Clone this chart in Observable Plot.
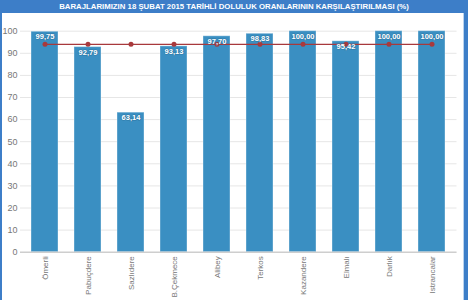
<!DOCTYPE html>
<html>
<head>
<meta charset="utf-8">
<script src="https://cdn.jsdelivr.net/npm/d3@7"></script>
<script src="https://cdn.jsdelivr.net/npm/@observablehq/plot@0.6"></script>
<style>
  html, body { margin: 0; padding: 0; background: #fff; }
  #wrap { position: relative; width: 468px; height: 300px; overflow: hidden; background: #fff; font-family: "Liberation Sans", Arial, sans-serif; }
  #title { position: absolute; left: 0; top: 0; width: 468px; height: 13px; background: #3d7ec8; color: #fff; font-weight: bold; font-size: 7.8px; line-height: 13px; text-align: center; white-space: nowrap; }
  #lb { position: absolute; left: 0; top: 0; width: 2px; height: 300px; background: #3d7ec8; }
  #rb { position: absolute; left: 464px; top: 0; width: 4px; height: 300px; background: #3d7ec8; }
  #rbi { position: absolute; left: 463px; top: 13px; width: 1px; height: 287px; background: #b9d3ee; }
  #chart { position: absolute; left: 0; top: 13px; }
</style>
</head>
<body>
<div id="wrap">
  <div id="chart"></div>
  <div id="lb"></div>
  <div id="rbi"></div>
  <div id="rb"></div>
  <div id="title">BARAJLARIMIZIN 18 ŞUBAT 2015 TARİHLİ DOLULUK ORANLARININ KARŞILAŞTIRILMASI (%)</div>
</div>
<script>
const dams = ["Ömerli", "Pabuçdere", "Sazlıdere", "B.Çekmece", "Alibey", "Terkos", "Kazandere", "Elmalı", "Darlık", "Istrancalar"];
const fillRates = [99.75, 92.79, 63.14, 93.13, 97.70, 98.83, 100.00, 95.42, 100.00, 100.00];
const averageRates = [94.08, 94.08, 94.08, 94.08, 94.08, 94.08, 94.08, 94.08, 94.08, 94.08];
const yTicks = [0, 10, 20, 30, 40, 50, 60, 70, 80, 90, 100];

const data = dams.map((d, i) => ({dam: d, rate: fillRates[i], avg: averageRates[i]}));
const fmt = v => v.toFixed(2).replace(".", ",");

const barColor = "#3a8fc2";
const lineColor = "#a8393c";

const chart = Plot.plot({
  width: 468,
  height: 287,
  marginTop: 17.7,
  marginBottom: 48.3,
  marginLeft: 20,
  marginRight: 11.5,
  style: {fontFamily: "'Liberation Sans', Arial, sans-serif", background: "transparent"},
  x: {domain: dams, paddingInner: 0.38, paddingOuter: 0.19, label: null},
  y: {domain: [0, 100], label: null},
  marks: [
    Plot.gridY(yTicks, {stroke: "#e6e6e6", strokeOpacity: 1}),
    Plot.barY(data, {x: "dam", y: "rate", fill: barColor, stroke: "#ffffff", strokeOpacity: 0.35, strokeWidth: 1}),
    Plot.ruleY([0], {stroke: "#c0c0c0", strokeWidth: 1}),
    Plot.lineY(data, {x: "dam", y: "avg", stroke: lineColor, strokeWidth: 1.3}),
    Plot.dot(data, {x: "dam", y: "avg", fill: lineColor, r: 2.5}),
    Plot.text(data, {x: "dam", y: "rate", text: d => fmt(d.rate), dy: 5, lineAnchor: "middle", fill: "#fff", fontWeight: "bold", fontSize: 7.5, stroke: "#1f5f86", strokeOpacity: 0.35, strokeWidth: 1.5}),
    Plot.axisY(yTicks, {tickSize: 0, tickPadding: 3, fontSize: 9, color: "#777", label: null}),
    Plot.axisX({tickSize: 0, tickPadding: 4, tickRotate: -90, fontSize: 8, color: "#777", label: null})
  ]
});
document.getElementById("chart").appendChild(chart);
</script>
</body>
</html>
